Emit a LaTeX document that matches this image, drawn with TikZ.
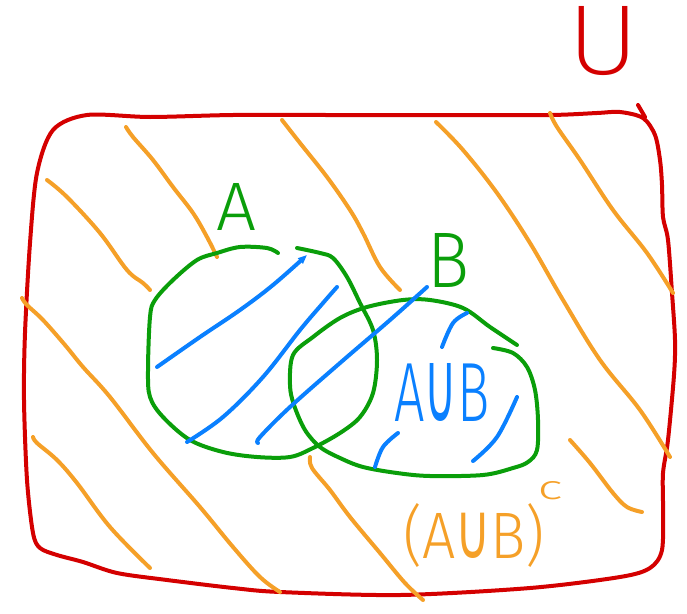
\documentclass[tikz,border=0pt]{standalone}
\usepackage{fontspec}
\usepackage{graphicx}
\usetikzlibrary{arrows.meta}
\newfontfamily\hand{Fira Sans Light}
\newfontfamily\thinhand{Fira Sans ExtraLight}
\newfontfamily\symfont{DejaVu Sans}
\newcommand{\uni}{\resizebox{0.6em}{0.69em}{\symfont ∪}}
\definecolor{bgc}{RGB}{248,246,235}
\definecolor{penred}{RGB}{212,0,0}
\definecolor{pengreen}{RGB}{10,158,10}
\definecolor{penblue}{RGB}{10,128,255}
\definecolor{penorange}{RGB}{245,160,40}
\begin{document}
\begin{tikzpicture}[x=1pt,y=-1pt,
  pen/.style={line width=4pt,line cap=round,line join=round},
  ink/.style={inner sep=0pt,outer sep=0pt,font=\hand},
  hatch/.style={pen,penorange},
  fill/.style={pen,penblue},
]
\fill[bgc] (0,0) rectangle (687,613);
\useasboundingbox (0,0) rectangle (687,613);

% universe
\draw[pen,penred] plot[smooth cycle,tension=0.5] coordinates{
 (87,115)(150,117)(233,115)(330,115)(450,115)(550,115)(597,113)(620,112)(643,118)
 (655,135)(660,160)(662,185)(663,217)(668,240)(672,293)(675,340)(674,375)(668,440)
 (663,473)(663,507)(662,550)(650,568)(620,577)(530,588)(400,595)(280,592)(233,588)
 (167,580)(117,573)(83,562)(57,555)(40,548)(33,533)(27,480)(24,400)(25,333)(30,243)
 (37,173)(53,130)};
\draw[pen,penred] (638,105) -- (645,117);
\node[ink,text=penred,font=\thinhand] (U) at (604,41) {\resizebox{72pt}{68pt}{U}};

% orange hatching
\draw[hatch] plot[smooth,tension=0.6] coordinates{(47,180)(67,197)(100,233)(127,270)(143,283)(150,290)};
\draw[hatch] plot[smooth,tension=0.6] coordinates{(126,127)(133,137)(153,160)(173,187)(193,213)(207,237)(217,257)};
\draw[hatch] plot[smooth,tension=0.6] coordinates{(282,120)(300,143)(327,177)(350,210)(363,233)(380,267)(400,290)};
\draw[hatch] plot[smooth,tension=0.6] coordinates{(436,122)(463,150)(497,193)(530,243)(563,300)(600,360)(640,410)(670,457)};
\draw[hatch] plot[smooth,tension=0.6] coordinates{(550,113)(557,127)(580,160)(613,210)(647,253)(673,293)};
\draw[hatch] plot[smooth,tension=0.6] coordinates{(22,298)(27,305)(43,320)(65,345)(83,367)(110,397)(153,453)(200,507)(233,547)(260,577)(280,592)};
\draw[hatch] plot[smooth,tension=0.6] coordinates{(33,437)(37,443)(57,460)(77,483)(110,527)(150,568)};
\draw[hatch] plot[smooth,tension=0.6] coordinates{(310,457)(312,468)(330,490)(350,517)(380,553)(405,583)(423,600)};
\draw[hatch] plot[smooth,tension=0.6] coordinates{(570,440)(590,463)(613,493)(627,507)(642,512)};

% set A
\draw[pen,pengreen] plot[smooth,tension=0.55] coordinates{
 (278,253)(267,248)(240,247)(217,253)(197,260)(173,280)(155,300)(150,317)(148,370)
 (150,397)(163,417)(190,440)(223,452)(257,457)(290,457)(313,448)(340,433)(360,417)
 (373,393)(377,360)(373,330)(360,303)(347,277)(333,258)(320,253)(297,248)};
\node[ink,text=pengreen] (A) at (237,207) {\resizebox{40pt}{47pt}{A}};

% set B
\draw[pen,pengreen] plot[smooth,tension=0.55] coordinates{
 (493,348)(513,353)(527,367)(535,390)(538,420)(537,450)(528,462)(513,468)(483,475)
 (430,476)(397,473)(363,467)(340,458)(320,447)(305,430)(294,405)(290,385)(293,355)
 (313,337)(340,318)(367,307)(403,300)(430,300)(463,308)(490,327)(517,345)};
\node[ink,text=pengreen] (B) at (449,260) {\resizebox{42pt}{54pt}{B}};

% blue shading of the union
\draw[fill,-{Triangle[length=9pt,width=7pt]}] plot[smooth,tension=0.6] coordinates{(157,367)(200,337)(240,310)(273,285)(307,255)};
\draw[fill] plot[smooth,tension=0.6] coordinates{(187,442)(223,417)(263,377)(300,330)(323,303)(337,287)};
\draw[fill] plot[smooth,tension=0.6] coordinates{(258,443)(260,437)(290,407)(340,363)(390,320)(427,287)};
\draw[fill] plot[smooth,tension=0.6] coordinates{(442,347)(453,323)(467,313)};
\draw[fill] plot[smooth,tension=0.6] coordinates{(375,467)(383,447)(398,433)};
\draw[fill] plot[smooth,tension=0.6] coordinates{(473,461)(497,437)(517,397)};
\node[ink,text=penblue] (AuB) at (442,392) {\resizebox{95pt}{58pt}{A\uni B}};

% complement label
\node[ink,text=penorange] (AuBc) at (474,535) {\resizebox*{142pt}{64pt}{(A\uni B)}};
\node[ink,text=penorange] (csup) at (550,491) {\resizebox{25pt}{18pt}{c}};
\end{tikzpicture}
\end{document}
